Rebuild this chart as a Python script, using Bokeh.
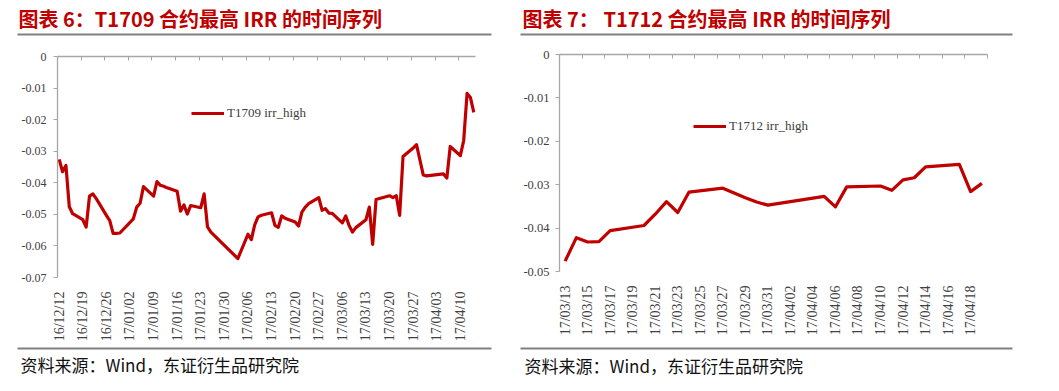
import math
import pandas as pd
from bokeh.plotting import figure
from bokeh.layouts import row, column
from bokeh.models import (Range1d, FixedTicker, DatetimeAxis, Legend, LegendItem, ColumnDataSource)
from bokeh.core.properties import value
from bokeh.embed import file_html
from bokeh.resources import INLINE

# ---------------- data ----------------
t1709_dates = [
    "2016-12-12", "2016-12-13", "2016-12-14", "2016-12-15", "2016-12-16",
    "2016-12-19", "2016-12-20", "2016-12-21", "2016-12-22", "2016-12-23",
    "2016-12-26", "2016-12-27", "2016-12-28", "2016-12-29", "2016-12-30",
    "2017-01-03", "2017-01-04", "2017-01-05", "2017-01-06",
    "2017-01-09", "2017-01-10", "2017-01-11", "2017-01-12", "2017-01-13",
    "2017-01-16", "2017-01-17", "2017-01-18", "2017-01-19", "2017-01-20",
    "2017-01-23", "2017-01-24", "2017-01-25", "2017-01-26",
    "2017-02-03",
    "2017-02-06", "2017-02-07", "2017-02-08", "2017-02-09", "2017-02-10",
    "2017-02-13", "2017-02-14", "2017-02-15", "2017-02-16", "2017-02-17",
    "2017-02-20", "2017-02-21", "2017-02-22", "2017-02-23", "2017-02-24",
    "2017-02-27", "2017-02-28", "2017-03-01", "2017-03-02", "2017-03-03",
    "2017-03-06", "2017-03-07", "2017-03-08", "2017-03-09", "2017-03-10",
    "2017-03-13", "2017-03-14", "2017-03-15", "2017-03-16", "2017-03-17",
    "2017-03-20", "2017-03-21", "2017-03-22", "2017-03-23", "2017-03-24",
    "2017-03-27", "2017-03-28", "2017-03-29", "2017-03-30", "2017-03-31",
    "2017-04-05", "2017-04-06", "2017-04-07",
    "2017-04-10", "2017-04-11", "2017-04-12", "2017-04-13", "2017-04-14",
]
t1709_irr = [
    -0.0326, -0.0365, -0.0345, -0.0476, -0.0498,
    -0.0517, -0.0540, -0.0442, -0.0435, -0.0450,
    -0.0503, -0.0520, -0.0560, -0.0560, -0.0559,
    -0.0514, -0.0477, -0.0465, -0.0412,
    -0.0442, -0.0396, -0.0408, -0.0411, -0.0416,
    -0.0427, -0.0490, -0.0470, -0.0499, -0.0472,
    -0.0479, -0.0435, -0.0540, -0.0556,
    -0.0640,
    -0.0563, -0.0580, -0.0533, -0.0508, -0.0503,
    -0.0495, -0.0535, -0.0541, -0.0505, -0.0512,
    -0.0524, -0.0537, -0.0493, -0.0477, -0.0466,
    -0.0447, -0.0487, -0.0482, -0.0496, -0.0497,
    -0.0527, -0.0505, -0.0535, -0.0556, -0.0542,
    -0.0517, -0.0477, -0.0595, -0.0453, -0.0450,
    -0.0441, -0.0447, -0.0441, -0.0503, -0.0317,
    -0.0290, -0.0279, -0.0327, -0.0375, -0.0378,
    -0.0372, -0.0385, -0.0285,
    -0.0314, -0.0266, -0.0117, -0.0130, -0.0177,
]
t1709_tick_labels = [
    "16/12/12", "16/12/19", "16/12/26", "17/01/02", "17/01/09", "17/01/16",
    "17/01/23", "17/01/30", "17/02/06", "17/02/13", "17/02/20", "17/02/27",
    "17/03/06", "17/03/13", "17/03/20", "17/03/27", "17/04/03", "17/04/10",
]
t1709_y_ticks = [0, -0.01, -0.02, -0.03, -0.04, -0.05, -0.06, -0.07]
t1709_y_labels = ["0", "-0.01", "-0.02", "-0.03", "-0.04", "-0.05", "-0.06", "-0.07"]

t1712_dates = [
    "2017-03-13", "2017-03-14", "2017-03-15", "2017-03-16", "2017-03-17",
    "2017-03-20", "2017-03-21", "2017-03-22", "2017-03-23", "2017-03-24",
    "2017-03-27", "2017-03-28", "2017-03-29", "2017-03-30", "2017-03-31",
    "2017-04-05", "2017-04-06", "2017-04-07",
    "2017-04-10", "2017-04-11", "2017-04-12", "2017-04-13", "2017-04-14",
    "2017-04-17", "2017-04-18", "2017-04-19",
]
t1712_irr = [
    -0.0476, -0.0422, -0.0432, -0.0431, -0.0406,
    -0.0394, -0.0368, -0.0339, -0.0364, -0.0317,
    -0.0308, -0.0319, -0.0330, -0.0340, -0.0347,
    -0.0327, -0.0351, -0.0305,
    -0.0303, -0.0313, -0.0289, -0.0284, -0.0259,
    -0.0253, -0.0316, -0.0297,
]
t1712_tick_labels = [
    "17/03/13", "17/03/15", "17/03/17", "17/03/19", "17/03/21", "17/03/23",
    "17/03/25", "17/03/27", "17/03/29", "17/03/31", "17/04/02", "17/04/04",
    "17/04/06", "17/04/08", "17/04/10", "17/04/12", "17/04/14", "17/04/16",
    "17/04/18",
]
t1712_y_ticks = [0, -0.01, -0.02, -0.03, -0.04, -0.05]
t1712_y_labels = ["0", "-0.01", "-0.02", "-0.03", "-0.04", "-0.05"]

titles = ["图表 6：T1709 合约最高 IRR 的时间序列", "图表 7：  T1712 合约最高 IRR 的时间序列"]
series_names = ["T1709 irr_high", "T1712 irr_high"]
source_note = "资料来源：Wind，东证衍生品研究院"

# ---------------- style ----------------
RED = "#C00000"
AXIS = "#A6A6A6"
TXT = "#404040"
RULE = "#808080"
SERIF = "Liberation Serif"
CJK = "Noto Sans CJK SC"
DAY = 86400000

TITLE_H = 40
CHART_H = 306
FOOT_H = 391 - TITLE_H - CHART_H
FOOT_Y0 = TITLE_H + CHART_H


def ms(ts):
    return int(pd.Timestamp(ts).value // 10**6)


def strip(W, H):
    f = figure(width=W, height=H, x_range=Range1d(0, W), y_range=Range1d(H, 0),
               x_axis_location=None, y_axis_location=None,
               output_backend="svg", toolbar_location=None, frame_align=False,
               min_border=0, min_border_left=0, min_border_right=0,
               min_border_top=0, min_border_bottom=0)
    f.outline_line_color = None
    f.xgrid.visible = False
    f.ygrid.visible = False
    return f


def panel(dates, vals, tick_labels, yticks, ylabels, title, name, lay):
    W = lay["W"]
    fl, fr = lay["fl"], lay["fr"]
    ft = lay["frame_top"] - TITLE_H
    fb = CHART_H - (lay["frame_bottom"] - TITLE_H)

    # ----- title strip -----
    ts = strip(W, TITLE_H)
    ts.text(x=[lay["tx"]], y=[18], text=[title], text_font=value(CJK),
            text_font_style="bold", text_font_size=value(lay["tfs"]),
            text_color=RED, text_baseline="middle", text_align="left")
    ts.segment(x0=[lay["rl"]], x1=[lay["rr"]], y0=[34], y1=[34],
               line_color=RULE, line_width=2)

    # ----- chart -----
    xs = [ms(d) + DAY // 2 for d in dates]
    lab_days = [ms(pd.to_datetime(t, format="%y/%m/%d")) for t in tick_labels]
    x0 = ms(dates[0])
    x1 = ms(dates[-1]) + DAY
    step = lab_days[1] - lab_days[0]
    top_ticks = list(range(lab_days[0], x1 + 1, step))

    p = figure(width=W, height=CHART_H, x_axis_type="datetime",
               x_range=Range1d(x0, x1), y_range=Range1d(yticks[-1], yticks[0]),
               output_backend="svg", toolbar_location=None, frame_align=False,
               min_border_left=fl, min_border_right=fr,
               min_border_top=ft, min_border_bottom=fb)
    p.outline_line_color = None
    p.xgrid.visible = False
    p.ygrid.visible = False
    p.border_fill_alpha = 0

    src = ColumnDataSource(dict(x=xs, y=vals))
    r = p.line("x", "y", source=src, line_color=RED, line_width=3.2, line_join="round")

    xa = p.xaxis[0]
    xa.ticker = FixedTicker(ticks=[d + DAY // 2 for d in lab_days])
    xa.major_label_overrides = {d + DAY // 2: t for d, t in zip(lab_days, tick_labels)}
    xa.axis_line_color = None
    xa.major_tick_line_color = None
    xa.minor_tick_line_color = None
    xa.major_label_orientation = math.pi / 2
    xa.major_label_text_font = SERIF
    xa.major_label_text_font_size = lay["xfs"]
    xa.major_label_text_color = TXT
    xa.major_label_standoff = lay["xstand"]

    ta = DatetimeAxis(ticker=FixedTicker(ticks=top_ticks))
    ta.major_label_text_font_size = "0px"
    ta.major_label_text_color = None
    ta.major_label_standoff = 0
    ta.axis_line_color = AXIS
    ta.axis_line_width = 1.3
    ta.major_tick_line_color = AXIS
    ta.major_tick_in = 4
    ta.major_tick_out = 0
    ta.minor_tick_line_color = None
    p.add_layout(ta, "above")

    ya = p.yaxis[0]
    ya.ticker = FixedTicker(ticks=yticks)
    ya.major_label_overrides = {t: l for t, l in zip(yticks, ylabels)}
    ya.axis_line_color = AXIS
    ya.axis_line_width = 1.3
    ya.major_tick_line_color = AXIS
    ya.major_tick_in = 0
    ya.major_tick_out = 4
    ya.minor_tick_line_color = None
    ya.major_label_text_font = SERIF
    ya.major_label_text_font_size = lay["yfs"]
    ya.major_label_text_color = TXT
    ya.major_label_standoff = lay["ystand"]

    lg = Legend(items=[LegendItem(label=name, renderers=[r])],
                location=(lay["lgx"], lay["lgy"]),
                border_line_color=None, background_fill_alpha=0,
                padding=0, margin=0, glyph_width=33, glyph_height=16,
                label_height=16, label_standoff=3,
                label_text_font=SERIF, label_text_font_size="13px",
                label_text_color=TXT)
    p.add_layout(lg)

    # ----- footer strip -----
    fs = strip(W, FOOT_H)
    fs.segment(x0=[lay["rl"]], x1=[lay["rr"]], y0=[348 - FOOT_Y0], y1=[348 - FOOT_Y0],
               line_color=RULE, line_width=2)
    fs.text(x=[lay["tx"] + 2], y=[lay["fy"] - FOOT_Y0], text=[source_note],
            text_font=value(CJK), text_font_size=value("17px"), text_color="#111111",
            text_baseline="middle", text_align="left")

    return column(ts, p, fs)


lay1 = dict(W=515, fl=57, fr=40, frame_top=56, frame_bottom=277, xfs="14px", xstand=8,
            yfs="12px", ystand=7, lgx=134, lgy=277 - 113 - 8, tx=18, rl=17, rr=491,
            tfs="20px", fy=364)
lay2 = dict(W=544, fl=44, fr=72, frame_top=54, frame_bottom=271, xfs="14px", xstand=8,
            yfs="12.5px", ystand=6, lgx=134, lgy=271 - 126 - 8, tx=7, rl=5, rr=497,
            tfs="20px", fy=365)

c1 = panel(t1709_dates, t1709_irr, t1709_tick_labels, t1709_y_ticks, t1709_y_labels,
           titles[0], series_names[0], lay1)
c2 = panel(t1712_dates, t1712_irr, t1712_tick_labels, t1712_y_ticks, t1712_y_labels,
           titles[1], series_names[1], lay2)

layout = row(c1, c2)
open("out.html", "w").write(file_html(layout, INLINE))
